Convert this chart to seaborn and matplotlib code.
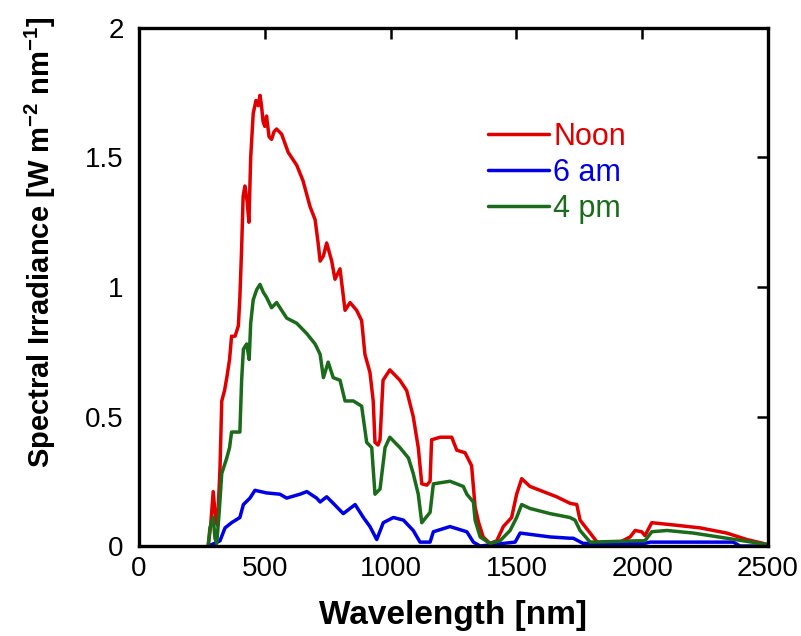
import numpy as np
import pandas as pd
import matplotlib
matplotlib.use("Agg")
import matplotlib.pyplot as plt
import seaborn as sns

# ---- data ----
noon_x = [275, 285, 295, 305, 312, 322, 329, 340, 349, 360, 368, 382, 395, 401, 408, 414, 421, 430, 437, 444,
          454, 465, 474, 481, 487, 493, 500, 507, 517, 527, 537, 547, 567, 593, 627, 652, 680, 700, 712, 720,
          733, 746, 766, 779, 799, 819, 839, 865, 885, 898, 918, 931, 938, 950, 958, 970, 997, 1037, 1064, 1090,
          1110, 1124, 1144, 1157, 1163, 1197, 1243, 1263, 1296, 1322, 1336, 1350, 1368, 1395, 1422, 1448, 1481,
          1501, 1521, 1554, 1607, 1660, 1713, 1740, 1753, 1793, 1825, 1912, 1952, 1972, 1998, 2011, 2038, 2137,
          2230, 2336, 2416, 2481, 2500]
noon_y = [0.0, 0.08, 0.21, 0.10, 0.08, 0.30, 0.56, 0.60, 0.65, 0.72, 0.81, 0.81, 0.85, 0.96, 1.15, 1.35, 1.39,
          1.33, 1.25, 1.50, 1.67, 1.72, 1.70, 1.74, 1.70, 1.64, 1.62, 1.66, 1.58, 1.57, 1.60, 1.61, 1.59, 1.52,
          1.47, 1.41, 1.31, 1.26, 1.17, 1.10, 1.12, 1.17, 1.10, 1.03, 1.07, 0.91, 0.94, 0.91, 0.87, 0.74, 0.67,
          0.56, 0.40, 0.39, 0.41, 0.64, 0.68, 0.64, 0.60, 0.50, 0.38, 0.24, 0.235, 0.25, 0.41, 0.42, 0.42, 0.37,
          0.36, 0.31, 0.15, 0.09, 0.035, 0.01, 0.02, 0.075, 0.11, 0.20, 0.26, 0.23, 0.21, 0.19, 0.165, 0.16, 0.10,
          0.05, 0.01, 0.015, 0.035, 0.06, 0.055, 0.04, 0.09, 0.08, 0.07, 0.05, 0.025, 0.01, 0.005]

pm4_x = [275, 282, 295, 302, 309, 318, 329, 349, 360, 368, 401, 408, 415, 428, 438, 444, 454, 468, 481, 494,
         507, 517, 527, 547, 587, 627, 667, 700, 720, 733, 752, 772, 799, 819, 852, 885, 905, 925, 938, 958,
         978, 997, 1037, 1071, 1090, 1110, 1124, 1157, 1170, 1236, 1289, 1303, 1329, 1336, 1356, 1395, 1435,
         1475, 1501, 1521, 1554, 1634, 1713, 1733, 1753, 1793, 1978, 2011, 2038, 2098, 2203, 2336, 2469, 2500]
pm4_y = [0.0, 0.07, 0.11, 0.03, 0.01, 0.12, 0.28, 0.34, 0.38, 0.44, 0.44, 0.64, 0.76, 0.78, 0.72, 0.86, 0.95,
         0.99, 1.01, 0.98, 0.96, 0.94, 0.92, 0.94, 0.88, 0.86, 0.82, 0.78, 0.74, 0.65, 0.71, 0.65, 0.64, 0.56,
         0.56, 0.54, 0.40, 0.38, 0.20, 0.22, 0.38, 0.42, 0.38, 0.34, 0.28, 0.20, 0.09, 0.13, 0.24, 0.25, 0.23,
         0.20, 0.17, 0.10, 0.035, 0.01, 0.02, 0.06, 0.11, 0.16, 0.145, 0.125, 0.11, 0.10, 0.06, 0.015, 0.02,
         0.02, 0.055, 0.06, 0.05, 0.03, 0.01, 0.005]

am6_x = [275, 300, 322, 342, 368, 401, 415, 441, 461, 507, 560, 587, 640, 667, 706, 720, 746, 772, 812, 859,
         892, 918, 945, 971, 1011, 1051, 1090, 1117, 1157, 1170, 1236, 1303, 1329, 1356, 1448, 1495, 1515, 1554,
         1634, 1713, 1726, 1765, 2011, 2031, 2362, 2389, 2500]
am6_y = [0.0, 0.01, 0.02, 0.07, 0.09, 0.11, 0.16, 0.185, 0.215, 0.205, 0.20, 0.185, 0.20, 0.21, 0.185, 0.17,
         0.19, 0.165, 0.125, 0.16, 0.11, 0.075, 0.025, 0.09, 0.11, 0.10, 0.06, 0.015, 0.015, 0.055, 0.075, 0.055,
         0.015, 0.0, 0.01, 0.015, 0.05, 0.045, 0.035, 0.03, 0.03, 0.01, 0.01, 0.015, 0.015, 0.0, 0.0]

series = ["Noon", "6 am", "4 pm"]
colors = ["#e00000", "#0000e6", "#1a6b1a"]
x_ticks = [0, 500, 1000, 1500, 2000, 2500]
y_ticks = [0, 0.5, 1, 1.5, 2]
y_tick_labels = ["0", "0.5", "1", "1.5", "2"]

df = pd.concat([
    pd.DataFrame({"wl": noon_x, "irr": noon_y, "time": "Noon"}),
    pd.DataFrame({"wl": am6_x, "irr": am6_y, "time": "6 am"}),
    pd.DataFrame({"wl": pm4_x, "irr": pm4_y, "time": "4 pm"}),
], ignore_index=True)

sns.set_theme(style="white")
plt.rcParams["font.family"] = ["Liberation Sans", "DejaVu Sans"]
plt.rcParams["text.color"] = "black"
plt.rcParams["axes.labelcolor"] = "black"

fig = plt.figure(figsize=(8.01, 6.36), dpi=100)
ax = fig.add_axes([0.1735, 0.1415, 0.7853, 0.8145])

sns.lineplot(data=df, x="wl", y="irr", hue="time", hue_order=series,
             palette=dict(zip(series, colors)), sort=False, estimator=None,
             linewidth=2.5, ax=ax)

ax.set_xlim(0, 2500)
ax.set_ylim(0, 2)
ax.set_xticks(x_ticks)
ax.set_yticks(y_ticks)
ax.set_yticklabels(y_tick_labels)
ax.tick_params(direction="in", length=8, width=1.8, top=True, right=True,
               labelsize=20, colors="black")
ax.tick_params(axis="y", pad=11)
ax.tick_params(axis="x", pad=7)
for s in ax.spines.values():
    s.set_linewidth(2.4)
    s.set_color("black")

ax.set_xlabel("Wavelength [nm]", fontsize=24, fontweight="bold", color="black")
ax.xaxis.set_label_coords(0.5, -0.105)
ax.set_ylabel("Spectral Irradiance [W m$^{\\mathregular{-2}}$ nm$^{\\mathregular{-1}}$]",
              fontsize=21, fontweight="bold", color="black")
ax.yaxis.set_label_coords(-0.128, 0.587)

leg = ax.legend(loc="upper left", bbox_to_anchor=(0.535, 0.843), frameon=False,
                fontsize=22, handlelength=2.0, handletextpad=0.15, labelspacing=0.2,
                labelcolor="linecolor", borderaxespad=0)
for line in leg.get_lines():
    line.set_linewidth(2.5)

fig.savefig("out.png", dpi=100)
